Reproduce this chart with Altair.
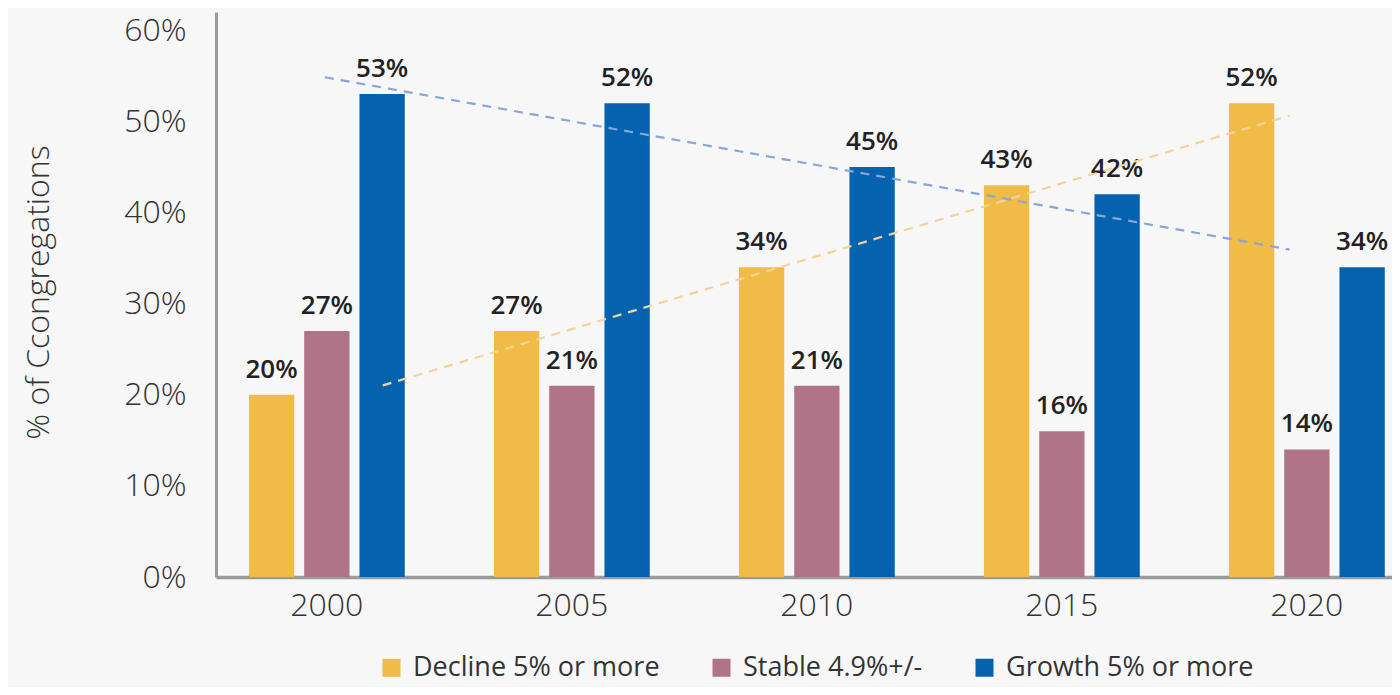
import altair as alt
import pandas as pd

years = ["2000", "2005", "2010", "2015", "2020"]
series = ["Decline 5% or more", "Stable 4.9%+/-", "Growth 5% or more"]
decline = [20, 27, 34, 43, 52]
stable = [27, 21, 21, 16, 14]
growth = [53, 52, 45, 42, 34]
colors = ["#F1BC45", "#B07489", "#0462AF"]

rows = []
for s, vals in zip(series, [decline, stable, growth]):
    for y, v in zip(years, vals):
        rows.append({"year": y, "yr": int(y), "series": s, "value": v, "label": f"{v}%"})
df = pd.DataFrame(rows)

FONT = "Open Sans"

band_scale = alt.Scale(paddingInner=0.364, paddingOuter=0.082, align=0.82)
x_band = alt.X(
    "year:N",
    title=None,
    sort=years,
    scale=band_scale,
    axis=alt.Axis(
        labelAngle=0, ticks=False, domainColor="#9a9a9a", domainWidth=3.5,
        labelFontSize=32, labelFont=FONT, labelColor="#333333", labelPadding=13,
        labelFontWeight=300,
    ),
)
x_band_noaxis = alt.X("year:N", title=None, sort=years, scale=band_scale, axis=None)
y_enc = alt.Y(
    "value:Q",
    scale=alt.Scale(domain=[0, 62], nice=False),
    axis=alt.Axis(
        values=[0, 10, 20, 30, 40, 50, 60], labelExpr="datum.value + '%'",
        grid=False, ticks=False, domainColor="#9a9a9a", domainWidth=3,
        labelFontSize=32, labelFont=FONT, labelColor="#333333", labelPadding=30,
        labelFontWeight=300,
        title="% of Ccongregations", titleFontSize=32, titleFont=FONT,
        titleFontWeight=300, titleColor="#333333", titleX=-178, titleY=280,
        titleAngle=-90, titleAlign="center", titleBaseline="middle",
    ),
)
xoff = alt.XOffset("series:N", sort=series, scale=alt.Scale(paddingInner=0.18, paddingOuter=0))

bars = alt.Chart(df).mark_bar().encode(
    x=x_band,
    xOffset=xoff,
    y=y_enc,
    color=alt.Color(
        "series:N",
        sort=series,
        scale=alt.Scale(domain=series, range=colors),
        legend=alt.Legend(
            title=None, orient="none", direction="horizontal",
            legendX=162, legendY=642, symbolType="square", symbolSize=324,
            symbolStrokeWidth=0, labelFontSize=27, labelFont=FONT,
            labelColor="#333333", labelOffset=8, columnPadding=48,
            labelLimit=400,
        ),
    ),
)

labels = alt.Chart(df).mark_text(
    dy=-17, baseline="alphabetic", fontSize=26, fontWeight=600, font=FONT, color="#222222"
).encode(x=x_band_noaxis, xOffset=xoff, y=y_enc, text="label:N")

xq = alt.X("yr:Q", scale=alt.Scale(domain=[1997.737, 2021.737], nice=False, zero=False), axis=None)

trend_growth = alt.Chart(df).transform_filter(
    alt.datum.series == "Growth 5% or more"
).transform_regression("yr", "value", extent=[1999.96, 2019.65]).mark_line(
    strokeDash=[9, 7], strokeWidth=2.2, color="#8CA5D8"
).encode(x=xq, y=alt.Y("value:Q"))

trend_decline = alt.Chart(df).transform_filter(
    alt.datum.series == "Decline 5% or more"
).transform_regression("yr", "value", extent=[2001.14, 2019.65]).mark_line(
    strokeDash=[9, 7], strokeWidth=2.2, color="#F5D398"
).encode(x=xq, y=alt.Y("value:Q"))

chart = alt.layer(bars, labels, trend_growth, trend_decline).resolve_scale(
    x="independent"
).properties(
    width=1176, height=565,
    padding={"left": 208, "top": 4, "right": 0, "bottom": 110},
    autosize=alt.AutoSizeParams(type="none"),
    background="#f7f7f7",
).configure_view(stroke=None)

chart.save("out.html", embed_options={"renderer": "svg", "actions": False})
